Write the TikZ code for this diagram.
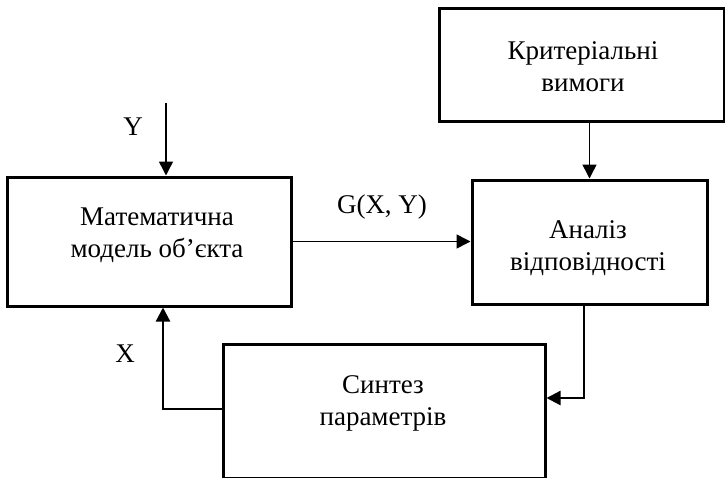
\documentclass[tikz,border=0pt]{standalone}
\usepackage{fontspec}
\setmainfont{Liberation Serif}
\usetikzlibrary{arrows.meta}
\begin{document}
\begin{tikzpicture}[x=1pt,y=-1pt,
  block/.style={draw, line width=3pt, inner sep=0pt},
  lbl/.style={font=\fontsize{27}{32}\selectfont, align=center, inner sep=0pt},
  tip/.style={-{Triangle[length=14pt,width=14pt]}},
  flow/.style={tip, line width=1.5pt},
  back/.style={tip, line width=2.3pt},
]
\useasboundingbox (0,0) rectangle (725,477);
\clip (0,0) rectangle (725,477);

% blocks
\node[block, minimum width=284pt, minimum height=129pt] (model) at (149,241.5) {};
\node[block, minimum width=285pt, minimum height=113pt] (crit) at (581.5,64.5) {};
\node[block, minimum width=235pt, minimum height=124pt] (ana) at (589.5,242) {};
\node[block, minimum width=322pt, minimum height=134pt] (syn) at (384,411) {};

% block texts
\node[lbl] (modeltxt) at (157,235) {Математична\\модель об’єкта};
\node[lbl] (crittxt) at (583,67) {Критеріальні\\вимоги};
\node[lbl] (anatxt) at (588,248) {Аналіз\\відповідності};
\node[lbl] (syntxt) at (383,403) {Синтез\\параметрів};

% signal labels
\node[lbl] (ylbl) at (133,127) {Y};
\node[lbl] (glbl) at (382,207) {G(X, Y)};
\node[lbl] (xlbl) at (125,354) {X};

% connectors
\coordinate (yin) at (166,103);
\coordinate (bendA) at (584,398);
\coordinate (bendB) at (163,409);

\draw[flow] (yin) -- (yin |- model.north);
\draw[flow] (ana.north |- crit.south) -- (ana.north);
\draw[flow] (model.east) -- (model.east -| ana.west);
\draw[back] (ana.south -| bendA) -- (bendA) -- (bendA -| syn.east);
\draw[back] (bendB -| syn.west) -- (bendB) -- (bendB |- model.south);
\end{tikzpicture}
\end{document}
